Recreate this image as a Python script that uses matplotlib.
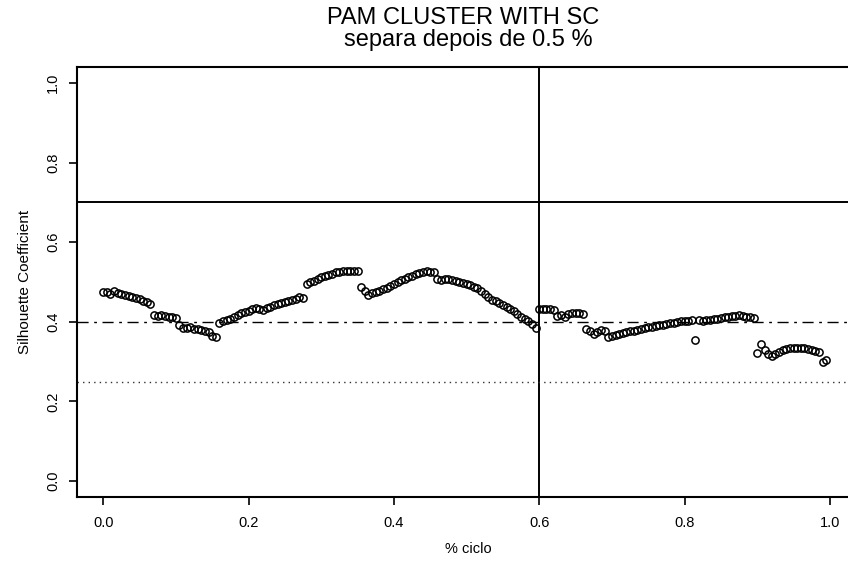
import matplotlib
matplotlib.use("Agg")
import matplotlib.pyplot as plt
import numpy as np

# silhouette coefficient sampled every 0.5% of the cycle
sc = [
    0.476, 0.474, 0.470, 0.478, 0.472, 0.470, 0.468, 0.466, 0.463, 0.460,
    0.457, 0.453, 0.450, 0.446, 0.416, 0.415, 0.417, 0.414, 0.413, 0.412,
    0.410, 0.392, 0.385, 0.384, 0.386, 0.383, 0.382, 0.380, 0.377, 0.375,
    0.365, 0.362, 0.398, 0.402, 0.405, 0.408, 0.412, 0.418, 0.422, 0.425,
    0.428, 0.432, 0.435, 0.432, 0.430, 0.435, 0.438, 0.442, 0.444, 0.447,
    0.450, 0.452, 0.455, 0.458, 0.462, 0.460, 0.495, 0.500, 0.503, 0.508,
    0.512, 0.515, 0.518, 0.521, 0.524, 0.526, 0.527, 0.528, 0.528, 0.528,
    0.527, 0.487, 0.478, 0.468, 0.472, 0.475, 0.478, 0.482, 0.486, 0.490,
    0.495, 0.500, 0.505, 0.508, 0.512, 0.516, 0.519, 0.523, 0.526, 0.527,
    0.526, 0.524, 0.507, 0.505, 0.507, 0.507, 0.505, 0.503, 0.500, 0.498,
    0.495, 0.492, 0.488, 0.485, 0.478, 0.470, 0.462, 0.456, 0.452, 0.448,
    0.443, 0.437, 0.432, 0.426, 0.420, 0.412, 0.406, 0.402, 0.395, 0.385,
    0.432, 0.433, 0.432, 0.431, 0.430, 0.415, 0.418, 0.412, 0.420, 0.421,
    0.421, 0.421, 0.420, 0.382, 0.378, 0.370, 0.375, 0.380, 0.378, 0.362,
    0.365, 0.368, 0.370, 0.372, 0.374, 0.376, 0.378, 0.380, 0.382, 0.384,
    0.386, 0.388, 0.390, 0.392, 0.391, 0.395, 0.397, 0.396, 0.399, 0.401,
    0.402, 0.403, 0.404, 0.354, 0.405, 0.403, 0.405, 0.404, 0.406, 0.408,
    0.409, 0.411, 0.412, 0.414, 0.415, 0.416, 0.414, 0.413, 0.411, 0.409,
    0.322, 0.345, 0.330, 0.320, 0.315, 0.320, 0.325, 0.328, 0.332, 0.334,
    0.335, 0.335, 0.335, 0.333, 0.332, 0.328, 0.326, 0.325, 0.300, 0.304,
]
step = 0.005
ciclo = np.arange(len(sc)) * step

sep_x = 0.6
h_solid = 0.7
h_dashdot = 0.4
h_dotted = 0.25

yticks = [0.0, 0.2, 0.4, 0.6, 0.8, 1.0]
xticks = [0.0, 0.2, 0.4, 0.6, 0.8, 1.0]

fam = ["Liberation Sans", "DejaVu Sans"]

fig = plt.figure(figsize=(8.48, 5.65), dpi=100)
ax = fig.add_axes([77 / 848, 68 / 565, 782 / 848, 430 / 565])

ax.plot(ciclo, sc, "o", mfc="none", mec="black", ms=5.2, mew=1.1)

ax.axvline(sep_x, color="black", lw=1.4)
ax.axhline(h_solid, color="black", lw=1.4)
ax.axhline(h_dashdot, color="black", lw=1.0, ls=(0, (8, 4, 2, 4)))
ax.axhline(h_dotted, color="#333333", lw=1.0, ls=(0, (1, 3)))

ax.set_xlim(-0.036, 1.04)
ax.set_ylim(-0.04, 1.04)
ax.set_xticks(xticks)
ax.set_yticks(yticks)
ax.set_xticklabels([f"{v:.1f}" for v in xticks], family=fam, fontsize=10.5)
ax.set_yticklabels([f"{v:.1f}" for v in yticks], family=fam, fontsize=10.5,
                   rotation=90, va="center")
ax.tick_params(direction="out", length=6, width=1.2)
ax.tick_params(axis="x", pad=8)
ax.tick_params(axis="y", pad=6)

for s in ax.spines.values():
    s.set_linewidth(1.5)

ax.set_xlabel("% ciclo", family=fam, fontsize=10.5, labelpad=8)
ax.set_ylabel("Silhouette Coefficient", family=fam, fontsize=11, labelpad=10)

fig.text(463 / 848, 1 - 18 / 565, "PAM CLUSTER WITH SC", family=fam,
         fontsize=17, ha="center", va="center")
fig.text(468 / 848, 1 - 40 / 565, "separa depois de 0.5 %", family=fam,
         fontsize=17, ha="center", va="center")

fig.savefig("out.png", dpi=100)
